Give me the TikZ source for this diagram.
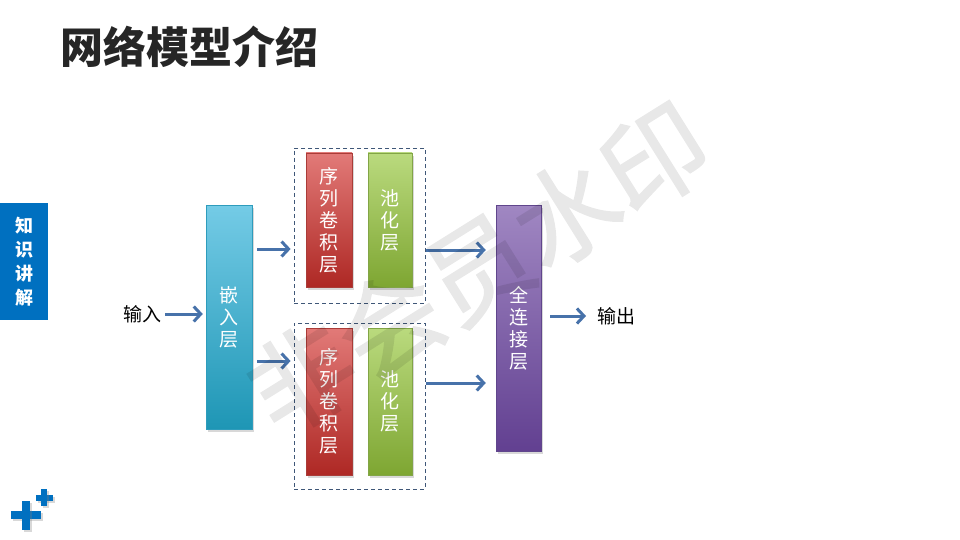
\documentclass[tikz,border=0pt]{standalone}
\usepackage{fontspec}
\setmainfont{Noto Sans CJK SC}
\newfontfamily\markfont[FakeBold=1.5]{Noto Sans CJK SC}
\usepackage{xcolor}
\usepackage{tikz}
\usetikzlibrary{arrows.meta, shadows, positioning}
\definecolor{tabblue}{RGB}{0, 112, 192}
\definecolor{titlegray}{RGB}{38, 38, 38}
\definecolor{arrowblue}{RGB}{71, 114, 170}
\definecolor{boxgray}{RGB}{63, 87, 120}
\definecolor{embtop}{RGB}{116, 203, 230}
\definecolor{embbot}{RGB}{30, 150, 181}
\definecolor{embline}{RGB}{46, 156, 188}
\definecolor{convtop}{RGB}{226, 122, 120}
\definecolor{convbot}{RGB}{174, 40, 36}
\definecolor{convline}{RGB}{170, 60, 56}
\definecolor{pooltop}{RGB}{186, 218, 126}
\definecolor{poolbot}{RGB}{126, 166, 50}
\definecolor{poolline}{RGB}{130, 165, 70}
\definecolor{fctop}{RGB}{160, 135, 194}
\definecolor{fcbot}{RGB}{98, 64, 145}
\definecolor{fcline}{RGB}{96, 70, 140}

\begin{document}
\begin{tikzpicture}[
    x=1pt, y=-1pt,
    layer/.style={draw, minimum width=46pt, align=center, text=white,
                  font=\fontsize{19}{22}\selectfont, inner sep=0pt,
                  drop shadow={shadow xshift=1.5pt, shadow yshift=-3pt,
                               opacity=0.3}},
    group/.style={draw=boxgray, dash pattern=on 4pt off 3pt, line width=0.8pt,
                  minimum width=131pt, inner sep=0pt},
    arrow/.style={-{Straight Barb[length=7pt, width=15pt]}, line width=3pt,
                  color=arrowblue},
    lbl/.style={font=\fontsize{19}{22}\selectfont, inner sep=0pt},
    plusbar/.style={fill=tabblue,
                    drop shadow={shadow xshift=1.5pt, shadow yshift=-2pt,
                                 opacity=0.3}},
]
    \useasboundingbox[fill=white] (0,0) rectangle (960,540);

    % title and side tab
    \node[anchor=west, inner sep=0pt, text=titlegray,
          font=\fontsize{43}{46}\selectfont\bfseries] (title) at (60,47)
        {网络模型介绍};
    \node[fill=tabblue, minimum width=48pt, minimum height=117pt, inner sep=0pt,
          text=white, align=center, font=\fontsize{18}{24}\selectfont\bfseries]
        (tab) at (24,261.5) {知\\识\\讲\\解};

    % plus marks
    \fill[plusbar] (11,511) rectangle (41,519);
    \fill[plusbar] (22,501) rectangle (30,530);
    \fill[plusbar] (36,495) rectangle (53,501);
    \fill[plusbar] (41,489) rectangle (47,506);

    % layers
    \node[layer, draw=embline, top color=embtop, bottom color=embbot,
          minimum height=224pt] (emb) at (229,317) {嵌\\入\\层};

    \node[group, minimum height=155pt] (box1) at (359.5,225.5) {};
    \node[group, minimum height=166pt] (box2) at (359.5,406) {};

    \node[layer, draw=convline, top color=convtop, bottom color=convbot,
          minimum height=134pt] (conv1) at (329,220) {序\\列\\卷\\积\\层};
    \node[layer, draw=poolline, top color=pooltop, bottom color=poolbot,
          minimum width=44pt, minimum height=134pt] (pool1) at (390,220)
        {池\\化\\层};
    \node[layer, draw=convline, top color=convtop, bottom color=convbot,
          minimum height=147pt] (conv2) at (329,401.5) {序\\列\\卷\\积\\层};
    \node[layer, draw=poolline, top color=pooltop, bottom color=poolbot,
          minimum width=44pt, minimum height=147pt] (pool2) at (390,401.5)
        {池\\化\\层};

    \node[layer, draw=fcline, top color=fctop, bottom color=fcbot,
          minimum width=45pt, minimum height=246pt] (fc) at (518.5,328)
        {全\\连\\接\\层};

    \node[lbl] (in) at (142,314) {输入};
    \node[lbl, anchor=west] (out) at (597,316) {输出};

    % arrow rows
    \coordinate (r1) at (0,249);
    \coordinate (r2) at (0,361);
    \coordinate (r3) at (0,250);
    \coordinate (r4) at (0,383);

    \draw[arrow, shorten <=4pt, shorten >=3pt] (in) -- (emb.west |- in);
    \draw[arrow, shorten <=5pt, shorten >=3pt] (emb.east |- r1) -- (box1.west |- r1);
    \draw[arrow, shorten <=5pt, shorten >=3pt] (emb.east |- r2) -- (box2.west |- r2);
    \draw[arrow, shorten <=1pt, shorten >=10pt] (box1.east |- r3) -- (fc.west |- r3);
    \draw[arrow, shorten <=1pt, shorten >=10pt] (box2.east |- r4) -- (fc.west |- r4);
    \draw[arrow, shorten <=9pt, shorten >=11pt] (fc.east |- out) -- (out.west);

    % watermark
    \begin{scope}[transparency group, opacity=0.09]
        \node[rotate=32, text=black,
              font=\fontsize{104}{108}\selectfont\markfont] (mark) at (478,268)
            {非会员水印};
    \end{scope}
\end{tikzpicture}
\end{document}
